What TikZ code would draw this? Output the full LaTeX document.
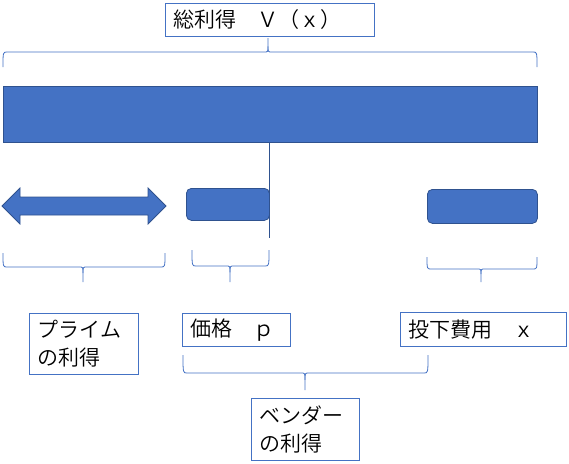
\documentclass[tikz,border=0pt]{standalone}
\usepackage{fontspec}
\setmainfont{Noto Sans CJK JP}[UprightFont=* DemiLight]
\definecolor{obl}{HTML}{4472C4}
\definecolor{odk}{HTML}{2F528F}
\newcommand\Brc[6]{%
  \draw[brc] (#1,#4) .. controls (#1,#5) .. ({#1+4},#5) -- ({#3-4},#5) .. controls (#3,#5) .. (#3,{#5+0.4*(#6-#5)}) -- (#3,#6);
  \draw[brc] (#2,#4) .. controls (#2,#5) .. ({#2-4},#5) -- ({#3+4},#5) .. controls (#3,#5) .. (#3,{#5+0.4*(#6-#5)});
}
\begin{document}
\begin{tikzpicture}[x=1pt,y=-1pt,
  lbl/.style={draw=obl,line width=0.9pt,rectangle,anchor=north west,inner xsep=8pt,inner ysep=0pt,
     align=left,font=\fontsize{21}{28}\selectfont,text=black},
  shp/.style={fill=obl,draw=odk,line width=0.8pt},
  brc/.style={draw=obl,line width=0.8pt},
  vln/.style={draw=odk,line width=0.8pt}]
\useasboundingbox (0,0) rectangle (569,463);
% labels
\node[lbl,minimum width=209pt,minimum height=33pt,text width=193pt] (tot) at (165,3) {総利得　Ｖ（ｘ）};
\node[lbl,minimum width=109pt,minimum height=61pt,text width=93pt] (prime) at (29,313) {プライム\\の利得};
\node[lbl,minimum width=108pt,minimum height=33pt,text width=92pt] (price) at (182,313) {価格　ｐ};
\node[lbl,minimum width=166pt,minimum height=34pt,text width=150pt] (cost) at (400,312) {投下費用　ｘ};
\node[lbl,minimum width=108pt,minimum height=62pt,text width=92pt] (vend) at (251,398) {ベンダー\\の利得};
% bar
\node[shp,rectangle,anchor=north west,minimum width=534pt,minimum height=56pt,inner sep=0pt] (bar) at (3,86) {};
% rounded rects
\node[shp,rectangle,rounded corners=5pt,anchor=north west,minimum width=83pt,minimum height=32pt,inner sep=0pt] (pbox) at (186,188) {};
\node[shp,rectangle,rounded corners=5pt,anchor=north west,minimum width=110pt,minimum height=34pt,inner sep=0pt] (xbox) at (427,189) {};
% double arrow
\draw[shp] (2,206) -- (20,188) -- (20,197) -- (148,197) -- (148,188) -- (166,206) -- (148,224) -- (148,215) -- (20,215) -- (20,224) -- cycle;
% vertical line
\coordinate (vlend) at (269,238);
\draw[vln] (bar.south -| vlend) -- (vlend);
% braces
\Brc{3}{537}{268}{67}{52}{38}
\Brc{3}{165}{83}{253}{267}{282}
\Brc{192}{269}{230}{250}{266}{282}
\Brc{427}{537}{481}{257}{269}{282}
\Brc{183}{428}{305}{355}{373}{390}
\end{tikzpicture}
\end{document}
